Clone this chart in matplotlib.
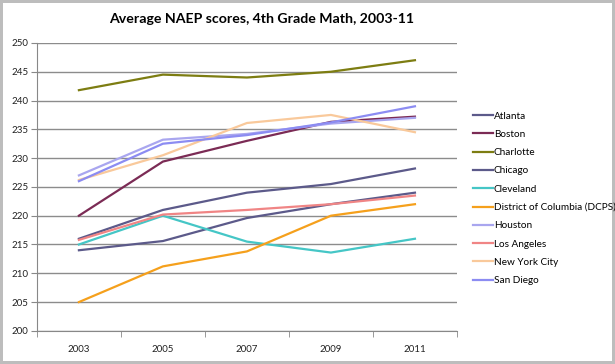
import matplotlib
matplotlib.use("Agg")
from matplotlib import pyplot as plt

years = ["2003", "2005", "2007", "2009", "2011"]

atlanta = [216, 221, 224, 225.5, 228.2]
boston = [220, 229.4, 233, 236.3, 237.2]
charlotte = [241.8, 244.5, 244, 245, 247]
chicago = [214, 215.6, 219.6, 222, 224]
cleveland = [215, 220, 215.5, 213.6, 216]
dcps = [205, 211.2, 213.8, 220, 222]
houston = [227, 233.2, 234.2, 236, 237]
los_angeles = [215.8, 220.2, 221, 222, 223.5]
new_york = [226.2, 230.5, 236.1, 237.5, 234.5]
san_diego = [226, 232.5, 234, 236.2, 239]

series = [
    ("Atlanta", atlanta, "#5c5a8a"),
    ("Boston", boston, "#7b2b55"),
    ("Charlotte", charlotte, "#7d7d12"),
    ("Chicago", chicago, "#5c5a8a"),
    ("Cleveland", cleveland, "#45c6c6"),
    ("District of Columbia (DCPS)", dcps, "#f5a01c"),
    ("Houston", houston, "#a9a6ef"),
    ("Los Angeles", los_angeles, "#f08585"),
    ("New York City", new_york, "#f9c99b"),
    ("San Diego", san_diego, "#8c8cf2"),
]

plt.rcParams["font.family"] = ["Lato", "DejaVu Sans"]

fig = plt.figure(figsize=(6.15, 3.64), dpi=100)
fig.patch.set_edgecolor("#bdbdbd")
fig.patch.set_linewidth(3)
ax = fig.add_axes([0.060, 0.091, 0.683, 0.791])

x = list(range(len(years)))
for name, vals, col in series:
    ax.plot(x, vals, color=col, linewidth=1.6, label=name)

ax.set_xlim(-0.5, len(years) - 0.5)
ax.set_ylim(200, 250)
ax.set_yticks(range(200, 251, 5))
ax.set_xticks(x)
ax.set_xticklabels(years)
ax.set_xticks([i - 0.5 for i in range(len(years) + 1)], minor=True)
ax.tick_params(axis="x", which="major", length=0, labelsize=7, pad=10, colors="#222222")
ax.tick_params(axis="x", which="minor", length=4, color="#888888", direction="out")
ax.tick_params(axis="y", length=4, color="#888888", labelsize=7, pad=2, labelcolor="#222222")
ax.yaxis.grid(True, color="#8c8c8c", linewidth=1)
ax.set_axisbelow(True)
for s in ["top", "right"]:
    ax.spines[s].set_visible(False)
for s in ["left", "bottom"]:
    ax.spines[s].set_color("#888888")

fig.suptitle("Average NAEP scores, 4th Grade Math, 2003-11", x=0.425, y=0.965,
             fontsize=10.2, fontweight="bold")

fig.legend(loc="center left", bbox_to_anchor=(0.769, 0.455), frameon=False,
           fontsize=7.2, handlelength=2.0, handletextpad=0.1, labelspacing=0.93,
           borderpad=0, borderaxespad=0)

fig.savefig("out.png", dpi=100)
